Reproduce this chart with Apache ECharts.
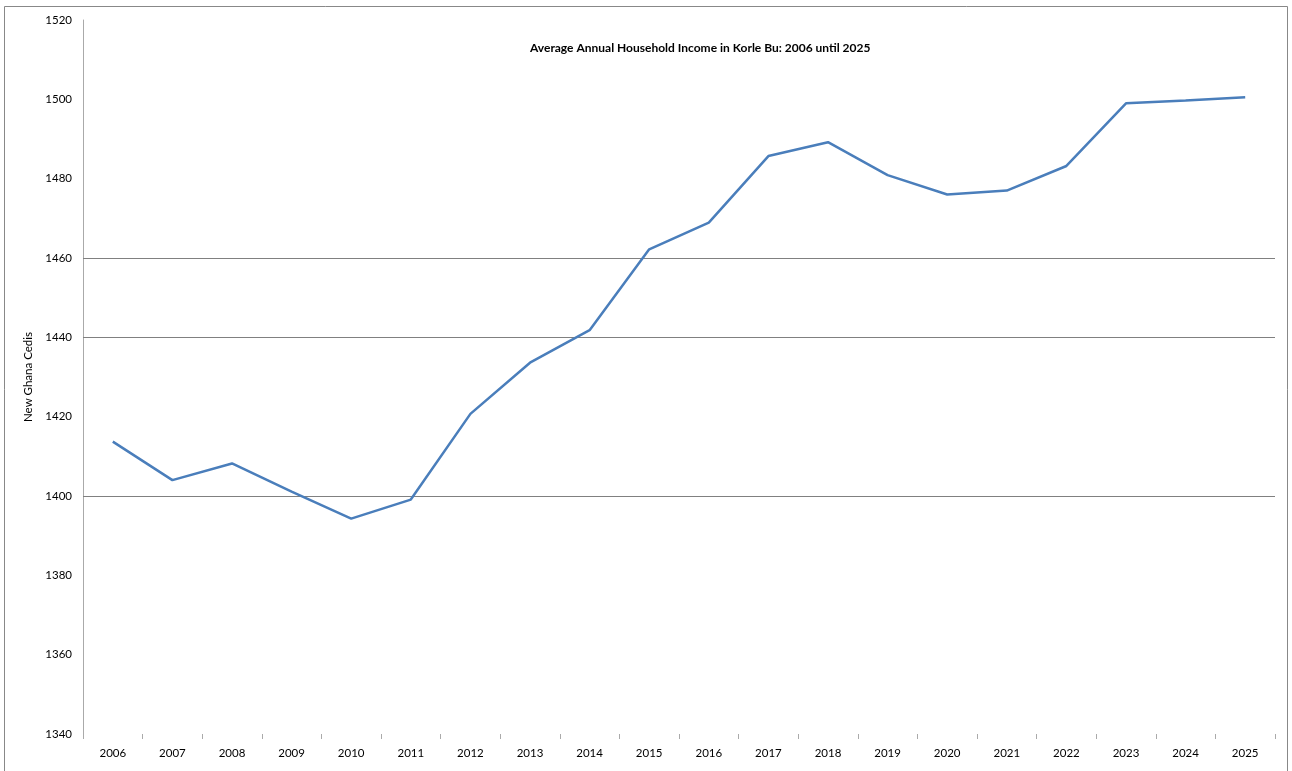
<!DOCTYPE html>
<html>
<head>
<meta charset="utf-8">
<script src="https://cdn.jsdelivr.net/npm/echarts@6/dist/echarts.min.js"></script>
<style>
html,body{margin:0;padding:0;background:#fff;}
#chart{width:1292px;height:771px;}
</style>
</head>
<body>
<div id="chart"></div>
<script>
const years = ['2006','2007','2008','2009','2010','2011','2012','2013','2014','2015','2016','2017','2018','2019','2020','2021','2022','2023','2024','2025'];
const income = [1413.7,1404.0,1408.2,1401.1,1394.3,1399.1,1420.7,1433.6,1441.8,1462.2,1468.9,1485.7,1489.2,1480.9,1476.0,1477.0,1483.2,1499.0,1499.7,1500.5];
const gridValues = [1400,1440,1460];
const yMin = 1340, yMax = 1520, yStep = 20;
const titleText = 'Average Annual Household Income in Korle Bu: 2006 until 2025';
const yName = 'New Ghana Cedis';

const chart = echarts.init(document.getElementById('chart'), null, {renderer:'canvas'});
const font = 'Lato, "Liberation Sans", sans-serif';
chart.setOption({
  animation:false,
  backgroundColor:'#fff',
  textStyle:{fontFamily:font},
  title:{
    text:titleText,
    left:525, top:37,
    textStyle:{fontFamily:font, fontSize:12, fontWeight:'bold', color:'#000'}
  },
  graphic:[{
    type:'rect',
    shape:{x:4.5,y:6.5,width:1283,height:770},
    style:{fill:'none', stroke:'#888', lineWidth:1},
    silent:true
  }],
  grid:{left:83, right:17, top:20, bottom:37, containLabel:false},
  xAxis:{
    type:'category',
    data:years,
    boundaryGap:true,
    axisLine:{show:false},
    axisTick:{show:true, length:5, lineStyle:{color:'#aaa'}},
    axisLabel:{color:'#000', fontSize:11.5, margin:13, fontFamily:font},
    splitLine:{show:false}
  },
  yAxis:{
    type:'value',
    min:yMin, max:yMax, interval:yStep,
    name:yName,
    nameLocation:'middle',
    nameGap:48,
    nameTextStyle:{color:'#000', fontSize:11.5, fontFamily:font},
    axisLine:{show:true, lineStyle:{color:'#aaa', width:1}},
    axisTick:{show:false},
    axisLabel:{color:'#000', fontSize:11.5, margin:11, fontFamily:font, formatter:v=>String(v)},
    splitLine:{show:false}
  },
  series:[{
    type:'line',
    data:income,
    symbol:'none',
    lineStyle:{color:'#4a7ebb', width:2.5},
    itemStyle:{color:'#4a7ebb'},
    z:3,
    markLine:{
      silent:true,
      symbol:['none','none'],
      label:{show:false},
      lineStyle:{color:'#808080', width:1, type:'solid'},
      data:gridValues.map(v=>({yAxis:v})),
      z:1
    }
  }]
});
</script>
</body>
</html>
